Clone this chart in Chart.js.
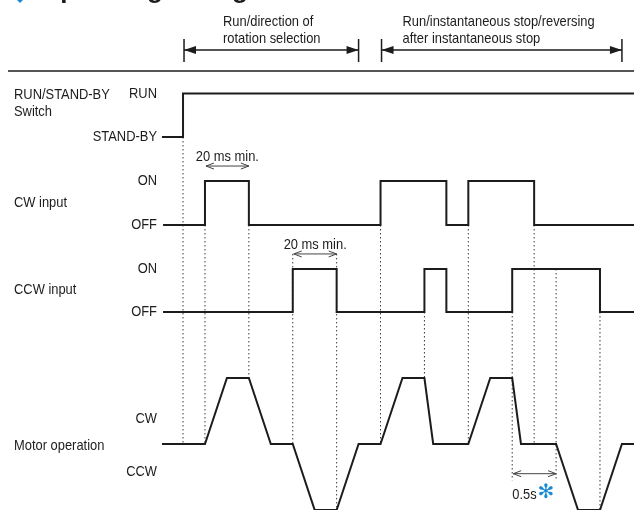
<!DOCTYPE html>
<html>
<head>
<meta charset="utf-8">
<script src="https://cdn.jsdelivr.net/npm/chart.js@4.4.0/dist/chart.umd.min.js"></script>
<style>
  html, body { margin: 0; padding: 0; background: #fff; }
  #chart { display: block; }
</style>
</head>
<body>
<canvas id="chart" width="634" height="510"></canvas>
<script>
// time in grid steps (one step = spacing of the dotted guides), 0 = RUN switched on
const switchTimes = [-0.96, 0, 20.6];
const switchLevels = [0, 1, 1];
const cwTimes = [-0.91, 1, 3, 9, 12, 13, 16, 20.6];
const cwLevels = [0, 1, 0, 1, 0, 1, 0, 0];
const ccwTimes = [-0.91, 5, 7, 11, 12, 15, 19, 20.6];
const ccwLevels = [0, 1, 0, 1, 0, 1, 0, 0];
// motor: +1 = CW at speed, -1 = CCW at speed
const motorTimes = [-0.96, 1, 2, 3, 4, 5, 6, 7, 8, 9, 10, 11, 11.4, 13, 14, 15, 15.4, 17, 18, 19, 20, 20.6];
const motorLevels = [0, 0, 1, 1, 0, 0, -1, -1, 0, 0, 1, 1, 0, 0, 1, 1, 0, 0, -1, -1, 0, 0];

// dotted guides: time, start (row, level), end level on the motor row
const guideTimes = [0, 1, 3, 5, 7, 9, 11, 13, 15, 16, 17, 19];
const guideFromRow = ['sw', 'cw', 'cw', 'ccw', 'ccw', 'cw', 'ccw', 'cw', 'ccw', 'cw', 'ccw', 'ccw'];
const guideFromLevel = [0, 0, 0, 1.35, 1.35, 0, 0, 0, 0, 0, 1, 0];
const guideToLevel = [0, 0, 1, 0, -1, 0, 1, 0, -0.55, 0, -0.55, -1];

const signalNames = [['RUN/STAND-BY', 'Switch'], ['CW input'], ['CCW input'], ['Motor operation']];
const levelLabels = [['STAND-BY', 'RUN'], ['OFF', 'ON'], ['OFF', 'ON'], ['CCW', 'CW']];
const phaseLabels = [['Run/direction of', 'rotation selection'], ['Run/instantaneous stop/reversing', 'after instantaneous stop']];
const phaseStart = [0, 9];
const phaseEnd = [8, 20];
const dimStart = [1, 5, 15];
const dimEnd = [3, 7, 17];
const dimLabels = ['20 ms min.', '20 ms min.', '0.5s'];

// layout (canvas px)
const rows = {
  sw: { base: 137, amp: 43.5 },
  cw: { base: 225, amp: 44 },
  ccw: { base: 312, amp: 43 },
  mot: { base: 444, amp: 66 }
};
const rowKeys = ['sw', 'cw', 'ccw', 'mot'];
const nameY = [[95, 112], [203], [290], [446]];
const LABEL_FONT = '15px "Liberation Sans", Arial, sans-serif';
const SQUEEZE = 0.86;
const INK = '#1c1c1c';

const yOf = (row, level) => rows[row].base - level * rows[row].amp;

function stepData(times, levels, row) {
  return times.map((t, i) => ({ x: t, y: yOf(row, levels[i]) }));
}

function signal(data, stepped) {
  return {
    data: data,
    stepped: stepped,
    borderColor: INK,
    borderWidth: 2,
    pointRadius: 0,
    tension: 0,
    order: 1
  };
}

const datasets = [
  signal(stepData(switchTimes, switchLevels, 'sw'), true),
  signal(stepData(cwTimes, cwLevels, 'cw'), true),
  signal(stepData(ccwTimes, ccwLevels, 'ccw'), true),
  signal(stepData(motorTimes, motorLevels, 'mot'), false)
];
guideTimes.forEach((t, i) => {
  datasets.push({
    data: [{ x: t, y: yOf(guideFromRow[i], guideFromLevel[i]) }, { x: t, y: yOf('mot', guideToLevel[i]) }],
    borderColor: '#3a3a3a',
    borderWidth: 1,
    borderDash: [1.5, 2.5],
    pointRadius: 0,
    order: 2
  });
});

function head(ctx, x, y, dir, len, half, filled) {
  ctx.beginPath();
  ctx.moveTo(x + dir * len, y - half);
  ctx.lineTo(x, y);
  ctx.lineTo(x + dir * len, y + half);
  if (filled) { ctx.closePath(); ctx.fill(); } else { ctx.stroke(); }
}

// condensed look: draw regular face squeezed horizontally
function label(ctx, s, x, y) {
  ctx.save();
  ctx.translate(x, y);
  ctx.scale(SQUEEZE, 1);
  ctx.fillText(s, 0, 0);
  ctx.restore();
  return ctx.measureText(s).width * SQUEEZE;
}

const annotations = {
  id: 'annotations',
  afterDatasetsDraw(chart) {
    const ctx = chart.ctx;
    const xs = chart.scales.x;
    const px = t => xs.getPixelForValue(t);
    ctx.save();

    // title, mostly cut off by the top edge
    ctx.fillStyle = '#1a8ad4';
    ctx.beginPath();
    ctx.moveTo(20, -15); ctx.lineTo(29, -6); ctx.lineTo(20, 3); ctx.lineTo(11, -6);
    ctx.closePath(); ctx.fill();
    ctx.fillStyle = INK;
    ctx.font = 'bold 26px "Liberation Sans", Arial, sans-serif';
    ctx.textBaseline = 'alphabetic';
    ctx.textAlign = 'left';
    ctx.fillText('Operating timing chart', 40, -2);

    // phase brackets
    ctx.strokeStyle = INK;
    ctx.fillStyle = INK;
    ctx.lineWidth = 1.5;
    ctx.font = LABEL_FONT;
    ctx.textBaseline = 'middle';
    phaseStart.forEach((t0, i) => {
      const x0 = px(t0) + 1, x1 = px(phaseEnd[i]);
      ctx.beginPath();
      ctx.moveTo(x0, 39); ctx.lineTo(x0, 62);
      ctx.moveTo(x1, 39); ctx.lineTo(x1, 62);
      ctx.moveTo(x0, 50); ctx.lineTo(x1, 50);
      ctx.stroke();
      head(ctx, x0, 50, 1, 12, 4, true);
      head(ctx, x1, 50, -1, 12, 4, true);
      label(ctx, phaseLabels[i][0], x0 + (i === 0 ? 39 : 21), 22);
      label(ctx, phaseLabels[i][1], x0 + (i === 0 ? 39 : 21), 39);
    });

    // rule under the header
    ctx.lineWidth = 1.6;
    ctx.beginPath();
    ctx.moveTo(8, 71); ctx.lineTo(634, 71);
    ctx.stroke();

    // row names and level labels
    rowKeys.forEach((k, i) => {
      ctx.textAlign = 'left';
      signalNames[i].forEach((s, j) => label(ctx, s, 14, nameY[i][j]));
      ctx.textAlign = 'right';
      if (k === 'mot') {
        label(ctx, levelLabels[i][1], 157, 419);
        label(ctx, levelLabels[i][0], 157, 472);
      } else {
        label(ctx, levelLabels[i][0], 157, yOf(k, 0));
        label(ctx, levelLabels[i][1], 157, yOf(k, 1));
      }
    });

    // dimension arrows
    const dimY = [yOf('cw', 1.34), yOf('ccw', 1.35), yOf('mot', -0.45)];
    ctx.strokeStyle = '#444';
    ctx.lineWidth = 1;
    dimStart.forEach((t0, i) => {
      const x0 = px(t0) + 1, x1 = px(dimEnd[i]);
      const y = dimY[i];
      ctx.beginPath();
      ctx.moveTo(x0, y); ctx.lineTo(x1, y);
      ctx.stroke();
      head(ctx, x0, y, 1, 8, 3, false);
      head(ctx, x1, y, -1, 8, 3, false);
      ctx.fillStyle = INK;
      if (i < 2) {
        ctx.textAlign = 'center';
        label(ctx, dimLabels[i], (x0 + x1) / 2, y - 9);
      } else {
        ctx.textAlign = 'left';
        const w = label(ctx, dimLabels[i], x0 - 1, y + 21);
        ctx.fillStyle = '#1a8ad4';
        ctx.font = 'bold 20px "DejaVu Sans", sans-serif';
        ctx.fillText('\u273B', x0 + w, y + 19);
        ctx.font = LABEL_FONT;
      }
    });
    ctx.restore();
  }
};

new Chart(document.getElementById('chart'), {
  type: 'line',
  data: { datasets: datasets },
  options: {
    responsive: false,
    animation: false,
    events: [],
    layout: { padding: 0 },
    plugins: { legend: { display: false }, tooltip: { enabled: false } },
    scales: {
      x: { type: 'linear', display: false, min: -8.34, max: 20.55 },
      y: { type: 'linear', display: false, min: 0, max: 510, reverse: true }
    }
  },
  plugins: [annotations]
});
</script>
</body>
</html>
